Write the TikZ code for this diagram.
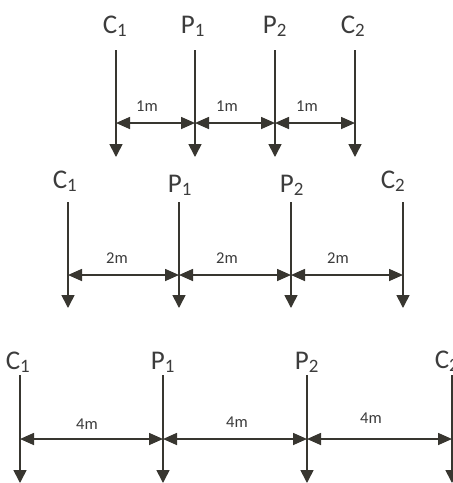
\documentclass[tikz,border=0pt]{standalone}
\usepackage{fontspec}
\setmainfont{Carlito}
\usetikzlibrary{arrows.meta}
\definecolor{txt}{HTML}{3C3C3C}
\definecolor{ln}{HTML}{383630}
\begin{document}
\begin{tikzpicture}[x=1pt,y=-1pt,
 lbl/.style={anchor=base,text=txt,font=\fontsize{27}{27}\selectfont,inner sep=0pt},
 dist/.style={anchor=base,text=txt,font=\fontsize{16.5}{16.5}\selectfont,inner sep=0pt},
 load/.style={draw=ln,line width=1.6pt,-{Triangle[length=13pt,width=13pt]}},
 span/.style={draw=ln,line width=1.6pt,{Triangle[length=14pt,width=12pt]}-{Triangle[length=14pt,width=12pt]}}]
\useasboundingbox[fill=white] (0,0) rectangle (453,483);
% ---- row 1 (1 m) ----
\foreach \n/\x in {a/116,b/195,c/275,d/355}{
  \coordinate (t1\n) at (\x,50);
  \coordinate (b1\n) at (\x,157);
  \coordinate (s1\n) at (\x,123);
}
\node[lbl] (l1a) at (115,33) {C\textsubscript{1}};
\node[lbl] (l1b) at (193,33) {P\textsubscript{1}};
\node[lbl] (l1c) at (275,33) {P\textsubscript{2}};
\node[lbl] (l1d) at (353,33) {C\textsubscript{2}};
\foreach \n in {a,b,c,d}{\draw[load] (t1\n) -- (b1\n);}
\draw[span] (s1a) -- (s1b);
\draw[span] (s1b) -- (s1c);
\draw[span] (s1c) -- (s1d);
\node[dist] (m1a) at (147,111.5) {1m};
\node[dist] (m1b) at (227,111.5) {1m};
\node[dist] (m1c) at (307,111.5) {1m};
% ---- row 2 (2 m) ----
\foreach \n/\x in {a/68,b/179,c/291,d/403}{
  \coordinate (t2\n) at (\x,202);
  \coordinate (b2\n) at (\x,308);
  \coordinate (s2\n) at (\x,275);
}
\node[lbl] (l2a) at (65,188) {C\textsubscript{1}};
\node[lbl] (l2b) at (180,192) {P\textsubscript{1}};
\node[lbl] (l2c) at (292,192) {P\textsubscript{2}};
\node[lbl] (l2d) at (393,188) {C\textsubscript{2}};
\foreach \n in {a,b,c,d}{\draw[load] (t2\n) -- (b2\n);}
\draw[span] (s2a) -- (s2b);
\draw[span] (s2b) -- (s2c);
\draw[span] (s2c) -- (s2d);
\node[dist] (m2a) at (117,263) {2m};
\node[dist] (m2b) at (227,263) {2m};
\node[dist] (m2c) at (338,263) {2m};
% ---- row 3 (4 m) ----
\foreach \n/\x in {a/20,b/163,c/307,d/452}{
  \coordinate (t3\n) at (\x,375);
  \coordinate (b3\n) at (\x,483);
  \coordinate (s3\n) at (\x,439);
}
\node[lbl] (l3a) at (18,369) {C\textsubscript{1}};
\node[lbl] (l3b) at (163,369) {P\textsubscript{1}};
\node[lbl] (l3c) at (307,369) {P\textsubscript{2}};
\node[lbl] (l3d) at (447,368) {C\textsubscript{2}};
\foreach \n in {a,b,c,d}{\draw[load] (t3\n) -- (b3\n);}
\draw[span] (s3a) -- (s3b);
\draw[span] (s3b) -- (s3c);
\draw[span] (s3c) -- (s3d);
\node[dist] (m3a) at (87,429) {4m};
\node[dist] (m3b) at (237,427) {4m};
\node[dist] (m3c) at (371,423) {4m};
\end{tikzpicture}
\end{document}
